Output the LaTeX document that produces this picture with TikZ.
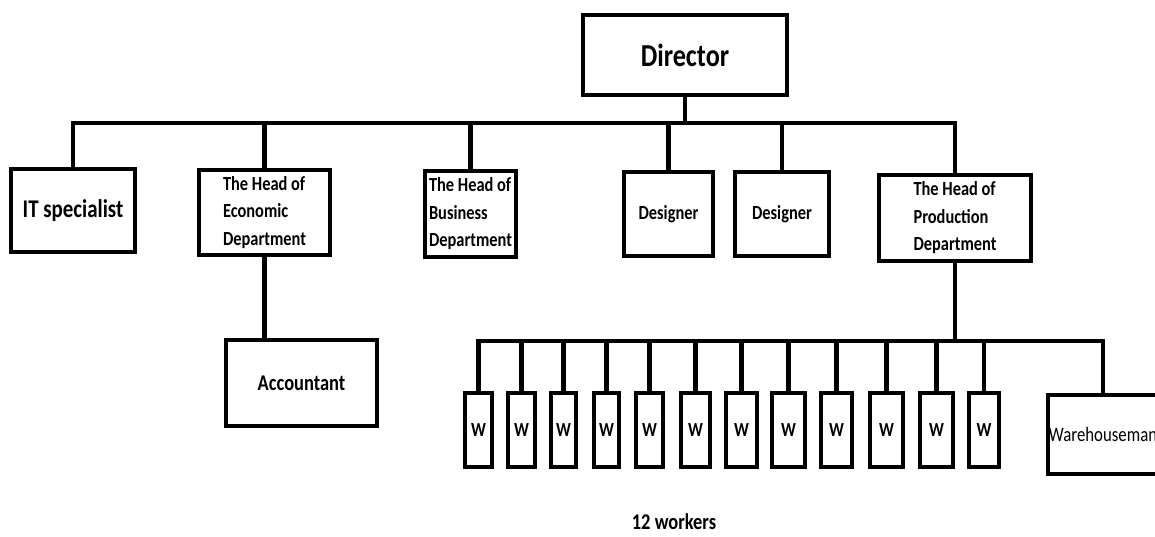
\documentclass[tikz,border=0pt]{standalone}
\usepackage{fontspec}
\setmainfont{Carlito}[FakeStretch=0.82]
\usepackage{tikz}
\usetikzlibrary{positioning}
\tikzstyle{edge}=[
	-,
	draw=black,
	line width=4.5pt,
	line cap=rect
]
\tikzstyle{box}=[
	rectangle,
	draw=black,
	line width=4.5pt,
	inner sep=0pt,
	align=left,
	font=\bfseries\fontsize{20}{27.5}\selectfont
]
\tikzstyle{wbox}=[
	box,
	minimum height=74pt,
	align=center
]

\begin{document}
\begin{tikzpicture}[x=1pt,y=-1pt]
\useasboundingbox (0,0) rectangle (1155,537);

\node[box, minimum width=204, minimum height=80, font=\bfseries\fontsize{32}{36}\selectfont] (dir) at (685,55) {Director};
\coordinate (bus) at (685,123);

\node[box, minimum width=124, minimum height=83, font=\bfseries\fontsize{25.5}{28}\selectfont] (it) at (73,210.5) {IT specialist};
\node[box, minimum width=131, minimum height=85] (econ) at (264.5,212.5) {The Head of\\Economic\\Department};
\node[box, minimum width=91, minimum height=86] (busi) at (470.5,214) {The Head of\\Business\\Department};
\node[box, minimum width=89, minimum height=84] (des1) at (668.5,214) {Designer};
\node[box, minimum width=94, minimum height=84] (des2) at (782,214) {Designer};
\node[box, minimum width=152, minimum height=86] (prod) at (955,218) {The Head of\\Production\\Department};

\draw[edge] (dir) -- (dir |- bus);
\draw[edge] (it.north |- bus) -- (prod.north |- bus);
\foreach \n in {it,econ,busi,des1,des2,prod} {
    \draw[edge] (\n.north) -- (\n.north |- bus);
}

\node[box, minimum width=151, minimum height=86, font=\bfseries\fontsize{22.5}{26}\selectfont] (acc) at (301.5,383) {Accountant};
\draw[edge] (econ.south) -- (econ.south |- acc.north);

\coordinate (wbus) at (957,341);
\draw[edge] (prod.south) -- (prod.south |- wbus);

\foreach \i/\cx/\w in {1/478.5/27, 2/521.5/27, 3/563.5/25, 4/606.5/25, 5/649.5/27, 6/695.5/29,
                        7/741.5/31, 8/788.5/33, 9/836.5/31, 10/886.5/33, 11/936.5/33, 12/984/30} {
    \node[wbox, minimum width=\w] (w\i) at (\cx,430) {W};
    \draw[edge] (w\i.north) -- (w\i.north |- wbus);
}

\node[box, minimum width=110, minimum height=79, font=\fontsize{20.5}{24}\selectfont] (wh) at (1103,434.5) {Warehouseman};
\draw[edge] (w1.north |- wbus) -- (wh.north |- wbus);
\draw[edge] (wh.north) -- (wh.north |- wbus);

\node[font=\bfseries\fontsize{22.5}{26}\selectfont, inner sep=0pt] (count) at (674,522) {12 workers};

\end{tikzpicture}
\end{document}
